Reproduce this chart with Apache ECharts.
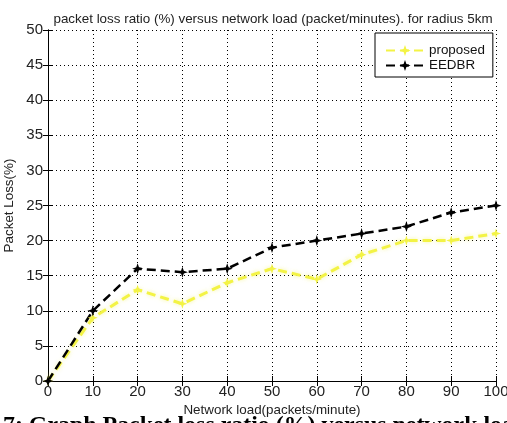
<!DOCTYPE html>
<html>
<head>
<meta charset="utf-8">
<script src="https://cdn.jsdelivr.net/npm/echarts@6/dist/echarts.min.js"></script>
<style>
html,body{margin:0;padding:0;background:#fff;}
#chart{width:507px;height:423px;}
</style>
</head>
<body>
<div id="chart"></div>
<script>
// Network load (packets/minute)
const loads = [0, 10, 20, 30, 40, 50, 60, 70, 80, 90, 100];
// Packet loss (%) per scheme
const proposed = [0, 9, 13, 11, 14, 16, 14.5, 18, 20, 20, 21];
const eedbr = [0, 10, 16, 15.5, 16, 19, 20, 21, 22, 24, 25];
const yTicks = [0, 5, 10, 15, 20, 25, 30, 35, 40, 45, 50];

const starPath = 'path://M0,-10 L2.5,-2.5 L10,0 L2.5,2.5 L0,10 L-2.5,2.5 L-10,0 L-2.5,-2.5 Z';
const sans = 'Liberation Sans, Arial, sans-serif';
const axisFont = {fontFamily: sans, fontSize: 15, color: '#222'};

const chart = echarts.init(document.getElementById('chart'));

function pairs(vals) { return loads.map((x, i) => [x, vals[i]]); }

const gridLine = {show: true, lineStyle: {color: '#000', type: [1, 3], width: 1}};
const frameLine = {show: true, lineStyle: {color: '#000', width: 1}};
const innerTick = {show: true, inside: true, length: 5, lineStyle: {color: '#000'}};

chart.setOption({
  animation: false,
  backgroundColor: '#fff',
  title: {
    text: 'packet loss ratio (%) versus network load (packet/minutes). for radius 5km',
    left: 268, top: 8, textAlign: 'center',
    textStyle: {fontFamily: sans, fontSize: 13.4, fontWeight: 'normal', color: '#222'}
  },
  grid: {left: 48, right: 11, top: 30, bottom: 42, containLabel: false, outerBoundsMode: 'none'},
  xAxis: [{
    type: 'value', min: 0, max: 100, interval: 10,
    name: 'Network load(packets/minute)', nameLocation: 'middle', nameGap: 22,
    nameTextStyle: {fontFamily: sans, fontSize: 13.4, color: '#222'},
    axisLine: frameLine,
    axisTick: innerTick,
    axisLabel: Object.assign({margin: 3}, axisFont),
    splitLine: gridLine
  }, {
    type: 'value', min: 0, max: 100, interval: 10, position: 'top',
    axisLine: frameLine, axisTick: innerTick,
    axisLabel: {show: false}, splitLine: {show: false}
  }],
  yAxis: [{
    type: 'value', min: 0, max: 50, interval: 5,
    name: 'Packet Loss(%)', nameLocation: 'middle', nameGap: 26,
    nameTextStyle: {fontFamily: sans, fontSize: 13.4, color: '#222'},
    axisLine: frameLine,
    axisTick: innerTick,
    axisLabel: Object.assign({margin: 5, formatter: v => yTicks.includes(v) ? String(v) : ''}, axisFont),
    splitLine: gridLine
  }, {
    type: 'value', min: 0, max: 50, interval: 5, position: 'right',
    axisLine: frameLine, axisTick: innerTick,
    axisLabel: {show: false}, splitLine: {show: false}
  }],
  legend: {
    left: 375, top: 33, orient: 'vertical',
    itemWidth: 38, itemHeight: 14, itemGap: 2,
    padding: [11, 8, 5, 10],
    borderColor: '#000', borderWidth: 1, backgroundColor: '#fff',
    textStyle: {fontFamily: sans, fontSize: 13.4, color: '#111'},
    data: ['proposed', 'EEDBR']
  },
  series: [{
    name: 'proposed', type: 'line', data: pairs(proposed),
    symbol: starPath, symbolSize: 10,
    itemStyle: {color: '#f3f345'},
    lineStyle: {color: '#f3f345', width: 3, type: [9, 5], shadowColor: 'rgba(240,240,100,0.6)', shadowBlur: 4}
  }, {
    name: 'EEDBR', type: 'line', data: pairs(eedbr),
    symbol: starPath, symbolSize: 11,
    itemStyle: {color: '#000'},
    lineStyle: {color: '#000', width: 2.5, type: [9, 5]}
  }],
  graphic: [{
    type: 'text', left: 3, top: 414,
    style: {
      text: '7: Graph Packet loss ratio (%) versus network load',
      font: 'bold 23.9px "Liberation Serif", "Times New Roman", serif',
      fill: '#000'
    }
  }]
});
</script>
</body>
</html>
